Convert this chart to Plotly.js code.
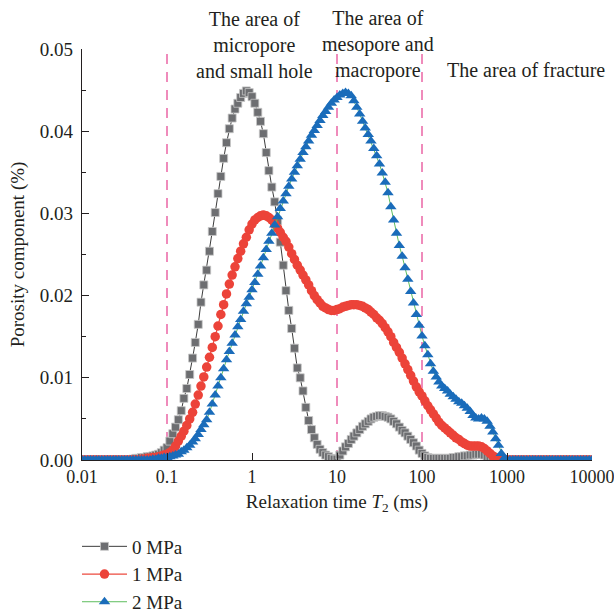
<!DOCTYPE html>
<html>
<head>
<meta charset="utf-8">
<script src="https://cdn.plot.ly/plotly-3.0.1.min.js"></script>
<style>
  html, body { margin: 0; padding: 0; background: #ffffff; }
  #chart { width: 614px; height: 614px; }
</style>
</head>
<body>
<div id="chart"></div>
<script>
// T2 relaxation-time grid (ms), 30 points per decade
const t2 = [
  0.0100,0.0108,0.0117,0.0126,0.0136,0.0147,0.0158,0.0171,0.0185,0.0200,
  0.0215,0.0233,0.0251,0.0271,0.0293,0.0316,0.0341,0.0369,0.0398,0.0430,
  0.0464,0.0501,0.0541,0.0584,0.0631,0.0681,0.0736,0.0794,0.0858,0.0926,
  0.100,0.108,0.117,0.126,0.136,0.147,0.158,0.171,0.185,0.200,
  0.215,0.233,0.251,0.271,0.293,0.316,0.341,0.369,0.398,0.430,
  0.464,0.501,0.541,0.584,0.631,0.681,0.736,0.794,0.858,0.926,
  1.00,1.08,1.17,1.26,1.36,1.47,1.58,1.71,1.85,2.00,
  2.15,2.33,2.51,2.71,2.93,3.16,3.41,3.69,3.98,4.30,
  4.64,5.01,5.41,5.84,6.31,6.81,7.36,7.94,8.58,9.26,
  10.0,10.8,11.7,12.6,13.6,14.7,15.8,17.1,18.5,20.0,
  21.5,23.3,25.1,27.1,29.3,31.6,34.1,36.9,39.8,43.0,
  46.4,50.1,54.1,58.4,63.1,68.1,73.6,79.4,85.8,92.6,
  100,108,117,126,136,147,158,171,185,200,
  215,233,251,271,293,316,341,369,398,430,
  464,501,541,584,631,681,736,794,858,926,
  1000,1080,1170,1260,1360,1470,1580,1710,1850,2000,
  2150,2330,2510,2710,2930,3160,3410,3690,3980,4300,
  4640,5010,5410,5840,6310,6810,7360,7940,8580,9260,
  10000
];

// Porosity component (%) at 0 MPa
const por0MPa = [
  0,0,0,0,0,0,0,0,0,0,
  0,0,0,0,0,0,0,0,0.0001,0.0002,
  0.0002,0.0003,0.0003,0.0004,0.0004,0.0005,0.0006,0.0007,0.0009,0.0012,
  0.0015,0.0023,0.0032,0.0040,0.0049,0.0060,0.0075,0.0087,0.0104,0.0124,
  0.0143,0.0165,0.0192,0.0213,0.0231,0.0254,0.0278,0.0301,0.0324,0.0345,
  0.0367,0.0386,0.0403,0.0416,0.0427,0.0434,0.0441,0.0446,0.0449,0.0447,
  0.0442,0.0434,0.0423,0.0412,0.0397,0.0374,0.0352,0.0332,0.0314,0.0291,
  0.0265,0.0237,0.0206,0.0182,0.0160,0.0136,0.0112,0.0100,0.0084,0.0064,
  0.0048,0.0037,0.0027,0.0019,0.0013,0.0009,0.0006,0.0004,0.0002,0.0001,
  0.0001,0.0006,0.0011,0.0016,0.0020,0.0025,0.0029,0.0033,0.0037,0.0041,
  0.0044,0.0047,0.0050,0.0052,0.0053,0.0054,0.0054,0.0053,0.0052,0.0050,
  0.0047,0.0044,0.0040,0.0036,0.0033,0.0029,0.0025,0.0021,0.0017,0.0012,
  0.0008,0.0005,0.0003,0.0002,0.0002,0.0002,0.0002,0.0002,0.0002,0.0002,
  0.0002,0.0003,0.0003,0.0004,0.0004,0.0005,0.0005,0.0006,0.0006,0.0007,
  0.0007,0.0007,0.0006,0.0004,0.0002,0.0001,0,0,0,0,
  0,0,0,0,0,0,0,0,0,0,
  0,0,0,0,0,0,0,0,0,0,
  0,0,0,0,0,0,0,0,0,0,
  0
];

// Porosity component (%) at 1 MPa
const por1MPa = [
  0,0,0,0,0,0,0,0,0,0,
  0,0,0,0,0,0,0,0,0,0,
  0,0.0001,0.0001,0.0002,0.0002,0.0003,0.0003,0.0004,0.0005,0.0006,
  0.0007,0.0009,0.0012,0.0017,0.0023,0.0029,0.0035,0.0042,0.0050,0.0058,
  0.0068,0.0079,0.0090,0.0101,0.0113,0.0125,0.0137,0.0150,0.0163,0.0177,
  0.0189,0.0202,0.0214,0.0225,0.0235,0.0245,0.0254,0.0263,0.0271,0.0280,
  0.0287,0.0292,0.0295,0.0297,0.0298,0.0297,0.0295,0.0292,0.0287,0.0282,
  0.0277,0.0271,0.0266,0.0259,0.0251,0.0244,0.0237,0.0231,0.0225,0.0219,
  0.0213,0.0206,0.0200,0.0195,0.0191,0.0187,0.0185,0.0183,0.0182,0.0182,
  0.0183,0.0184,0.0186,0.0187,0.0188,0.0189,0.0189,0.0189,0.0188,0.0187,
  0.0185,0.0183,0.0180,0.0177,0.0173,0.0170,0.0166,0.0161,0.0156,0.0150,
  0.0143,0.0137,0.0131,0.0124,0.0117,0.0110,0.0103,0.0096,0.0089,0.0083,
  0.0078,0.0072,0.0066,0.0061,0.0056,0.0051,0.0046,0.0042,0.0039,0.0036,
  0.0033,0.0030,0.0027,0.0025,0.0022,0.0020,0.0018,0.0017,0.0017,0.0017,
  0.0017,0.0016,0.0014,0.0011,0.0008,0.0005,0.0003,0.0001,0,0,
  0,0,0,0,0,0,0,0,0,0,
  0,0,0,0,0,0,0,0,0,0,
  0,0,0,0,0,0,0,0,0,0,
  0
];

// Porosity component (%) at 2 MPa
const por2MPa = [
  0,0,0,0,0,0,0,0,0,0,
  0,0,0,0,0,0,0,0,0,0,
  0,0,0,0,0,0.0001,0.0001,0.0002,0.0002,0.0003,
  0.0003,0.0004,0.0005,0.0006,0.0007,0.0010,0.0012,0.0015,0.0018,0.0022,
  0.0026,0.0031,0.0037,0.0043,0.0049,0.0058,0.0068,0.0079,0.0090,0.0100,
  0.0111,0.0122,0.0132,0.0142,0.0152,0.0162,0.0171,0.0181,0.0190,0.0198,
  0.0207,0.0216,0.0226,0.0236,0.0246,0.0256,0.0266,0.0276,0.0286,0.0296,
  0.0306,0.0315,0.0324,0.0333,0.0342,0.0350,0.0358,0.0366,0.0374,0.0381,
  0.0388,0.0395,0.0401,0.0407,0.0413,0.0419,0.0424,0.0429,0.0434,0.0438,
  0.0441,0.0444,0.0446,0.0447,0.0446,0.0443,0.0437,0.0429,0.0421,0.0412,
  0.0404,0.0396,0.0388,0.0379,0.0370,0.0360,0.0349,0.0338,0.0325,0.0308,
  0.0292,0.0276,0.0261,0.0248,0.0234,0.0220,0.0205,0.0191,0.0177,0.0164,
  0.0151,0.0139,0.0128,0.0117,0.0108,0.0101,0.0095,0.0090,0.0087,0.0084,
  0.0080,0.0077,0.0074,0.0071,0.0069,0.0066,0.0063,0.0059,0.0054,0.0051,
  0.0050,0.0051,0.0050,0.0047,0.0041,0.0034,0.0026,0.0018,0.0008,0.0002,
  0,0,0,0,0,0,0,0,0,0,
  0,0,0,0,0,0,0,0,0,0,
  0,0,0,0,0,0,0,0,0,0,
  0
];

const seriesNames = ['0 MPa', '1 MPa', '2 MPa'];

// Region boundaries (ms) and labels
const boundaries = [0.1, 10, 100];
const regionLabels = [
  'The area of<br>micropore<br>and small hole',
  'The area of<br>mesopore and<br>macropore',
  'The area of fracture'
];

const xTickVals = [0.01, 0.1, 1, 10, 100, 1000, 10000];
const xTickText = ['0.01', '0.1', '1', '10', '100', '1000', '10000'];
const yTickVals = [0, 0.01, 0.02, 0.03, 0.04, 0.05];
const yTickText = ['0.00', '0.01', '0.02', '0.03', '0.04', '0.05'];
const yMinorVals = [0.005, 0.015, 0.025, 0.035, 0.045];

const FONT = '"Liberation Serif", "Times New Roman", serif';
const INK = '#231f20';

const traces = [];

// dashed region separators
boundaries.forEach(function (b) {
  traces.push({
    x: [b, b], y: [0, 0.05],
    mode: 'lines', showlegend: false, hoverinfo: 'skip',
    line: { color: '#ec6fab', width: 1.6, dash: '10px,8px' }
  });
});

traces.push({
  x: t2, y: por0MPa, name: seriesNames[0], mode: 'lines+markers',
  line: { color: '#3c3c3c', width: 1 },
  marker: { symbol: 'square', size: 8, color: '#6d6e71', line: { color: '#c8c8c8', width: 0.8 } },
  legendrank: 1
});
traces.push({
  x: t2, y: por1MPa, name: seriesNames[1], mode: 'lines+markers',
  line: { color: '#ec4a3e', width: 1.2 },
  marker: { symbol: 'circle', size: 9.5, color: '#ec4339' },
  legendrank: 2
});
traces.push({
  x: t2, y: por2MPa, name: seriesNames[2], mode: 'lines+markers',
  line: { color: '#5dbd5d', width: 1 },
  marker: { symbol: 'triangle-up', size: 10, color: '#1a6cba' },
  legendrank: 3
});

const annotations = [
  { text: regionLabels[0], x: 0.339, y: 1.01 },
  { text: regionLabels[1], x: 0.580, y: 1.01 },
  { text: regionLabels[2], x: 0.871, y: 0.949 }
].map(function (a) {
  return {
    text: a.text, x: a.x, y: a.y, xref: 'paper', yref: 'paper',
    xanchor: 'center', yanchor: 'middle', showarrow: false, align: 'center',
    font: { family: FONT, size: 20, color: INK }
  };
});

const layout = {
  width: 614, height: 614,
  margin: { l: 82, r: 22, t: 49, b: 154 },
  paper_bgcolor: '#ffffff', plot_bgcolor: '#ffffff',
  font: { family: FONT, size: 18, color: INK },
  showlegend: true,
  legend: {
    xref: 'paper', yref: 'container',
    x: -0.0098, y: 0.1409, xanchor: 'left', yanchor: 'top',
    itemwidth: 45,
    font: { family: FONT, size: 19, color: INK },
    bgcolor: 'rgba(0,0,0,0)', tracegroupgap: 0
  },
  xaxis: {
    type: 'log', range: [-2, 4],
    tickmode: 'array', tickvals: xTickVals, ticktext: xTickText,
    ticks: 'inside', ticklen: 7, tickwidth: 1, tickcolor: INK,
    ticklabeloverflow: 'allow',
    showline: true, linecolor: INK, linewidth: 1.3,
    showgrid: false, zeroline: false,
    tickfont: { family: FONT, size: 18, color: INK },
    title: { text: 'Relaxation time <i>T</i><sub>2</sub> (ms)', font: { family: FONT, size: 19, color: INK }, standoff: 8 }
  },
  yaxis: {
    range: [0, 0.05],
    tickmode: 'array', tickvals: yTickVals, ticktext: yTickText,
    ticks: 'inside', ticklen: 7, tickwidth: 1, tickcolor: INK,
    minor: { tickmode: 'array', tickvals: yMinorVals, ticks: 'inside', ticklen: 4, tickwidth: 1, tickcolor: INK, showgrid: false },
    showline: true, linecolor: INK, linewidth: 1.3,
    showgrid: false, zeroline: false,
    tickfont: { family: FONT, size: 19, color: INK },
    ticklabelstandoff: 4,
    title: { text: 'Porosity component (%)', font: { family: FONT, size: 19, color: INK }, standoff: 10 }
  },
  annotations: annotations
};

Plotly.newPlot('chart', traces, layout, { displayModeBar: false, staticPlot: true });
</script>
</body>
</html>
